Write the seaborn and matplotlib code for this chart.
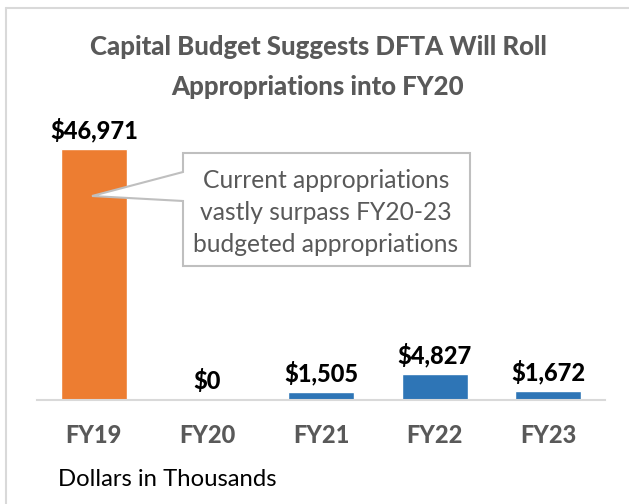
import matplotlib.pyplot as plt
import seaborn as sns
import pandas as pd
from matplotlib.patches import Polygon
from matplotlib.lines import Line2D

# data
years = ['FY19', 'FY20', 'FY21', 'FY22', 'FY23']
amounts = [46971, 0, 1505, 4827, 1672]
labels = ['$46,971', '$0', '$1,505', '$4,827', '$1,672']
bar_colors = ['#ED7D31', '#2E75B6', '#2E75B6', '#2E75B6', '#2E75B6']

df = pd.DataFrame({'year': years, 'amount': amounts})

sns.set_style('white')
plt.rcParams['font.family'] = ['Lato', 'DejaVu Sans']

W, H = 629, 504
fig = plt.figure(figsize=(W / 100, H / 100), dpi=100)
ax = fig.add_axes([37 / W, (H - 400) / H, 568 / W, 294 / H])

sns.barplot(data=df, x='year', y='amount', hue='year', palette=bar_colors,
            width=0.58, legend=False, ax=ax, saturation=1)
ax.set_xlim(-0.5, 4.5)
ax.set_ylim(0, 55000)

for i, (v, lab) in enumerate(zip(amounts, labels)):
    ax.annotate(lab, (i, v), xytext=(0, 19), textcoords='offset pixels',
                ha='center', va='center', fontsize=17, fontweight='black',
                color='black')

sns.despine(ax=ax, left=True, top=True, right=True)
ax.spines['bottom'].set_color('#D9D9D9')
ax.spines['bottom'].set_linewidth(1.5)
ax.set_yticks([])
ax.set_xlabel('')
ax.set_ylabel('')
ax.tick_params(axis='x', length=0, pad=17)
for t in ax.get_xticklabels():
    t.set_fontsize(17)
    t.set_fontweight('black')
    t.set_color('#595959')

# title
fig.text(318 / W, 1 - 47 / H, 'Capital Budget Suggests DFTA Will Roll',
         ha='center', va='center', fontsize=18.5, fontweight='black', color='#595959')
fig.text(318 / W, 1 - 87 / H, 'Appropriations into FY20',
         ha='center', va='center', fontsize=18.5, fontweight='black', color='#595959')

# callout
pts = [(183, 153), (470, 153), (470, 266), (183, 266), (183, 201), (92, 196), (183, 172)]
poly = Polygon([(x / W, 1 - y / H) for x, y in pts], closed=True,
               transform=fig.transFigure, facecolor='white', edgecolor='#BFBFBF',
               linewidth=1.5, zorder=5)
fig.patches.append(poly)
for y, s in [(181, 'Current appropriations'), (213, 'vastly surpass FY20-23'),
             (245, 'budgeted appropriations')]:
    fig.text(326 / W, 1 - y / H, s, ha='center', va='center', fontsize=17.7,
             color='#595959', zorder=6)

fig.text(58 / W, 1 - 480 / H, 'Dollars in Thousands', ha='left', va='center',
         fontsize=17.2, color='black')

# outer frame
fig.lines.append(Line2D([6 / W, 1], [1 - 7.5 / H, 1 - 7.5 / H], transform=fig.transFigure,
                        color='#D9D9D9', linewidth=1.5))
fig.lines.append(Line2D([6.5 / W, 6.5 / W], [0, 1 - 7.5 / H], transform=fig.transFigure,
                        color='#D9D9D9', linewidth=1.5))

fig.savefig('out.png', dpi=100)
